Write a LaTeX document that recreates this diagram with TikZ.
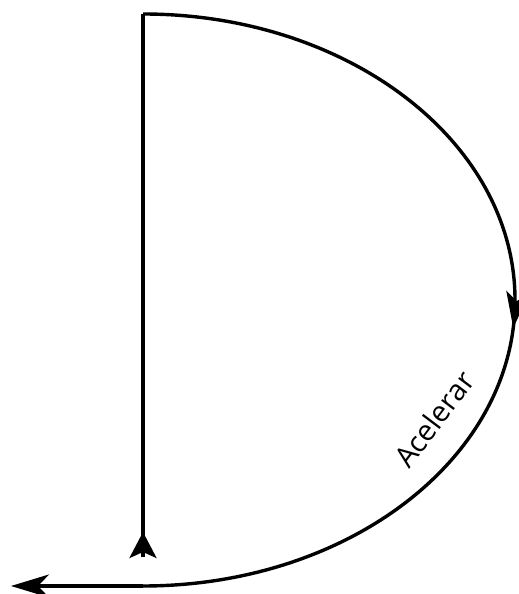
\documentclass[tikz,border=0pt]{standalone}
\usepackage{fontspec}
\setmainfont{Open Sans}
\usetikzlibrary{arrows.meta,decorations.markings}
\tikzset{
  pathline/.style={line width=3.4pt, black},
}
\begin{document}
\begin{tikzpicture}[x=1pt,y=1pt]
\useasboundingbox (0,0) rectangle (519,594);
\coordinate (center) at (143,294);
\coordinate (top) at (143,580);
\coordinate (bot) at (143,8);
\coordinate (start) at (143,37);
\coordinate (end) at (11,8);
% vertical line with arrowhead near its start
\draw[pathline, postaction={decorate}, decoration={markings,
  mark=at position 25pt with {\arrow{Stealth[length=26pt,width=27pt,inset=6pt]}}}]
  (start) -- (top);
% arc with arrowhead at its middle
\draw[pathline, postaction={decorate}, decoration={markings,
  mark=at position 0.527 with {\arrow{Stealth[length=36pt,width=23pt,inset=9pt]}}}]
  (top) arc[start angle=90, end angle=-90, x radius=372, y radius=286];
% bottom line to the left arrow
\draw[pathline, -{Stealth[length=38pt,width=23pt,inset=11pt]}] (bot) -- (end);
\node[rotate=53, font=\fontsize{29}{33}\selectfont, inner sep=0pt] (label) at (434,175) {Acelerar};
\end{tikzpicture}
\end{document}
